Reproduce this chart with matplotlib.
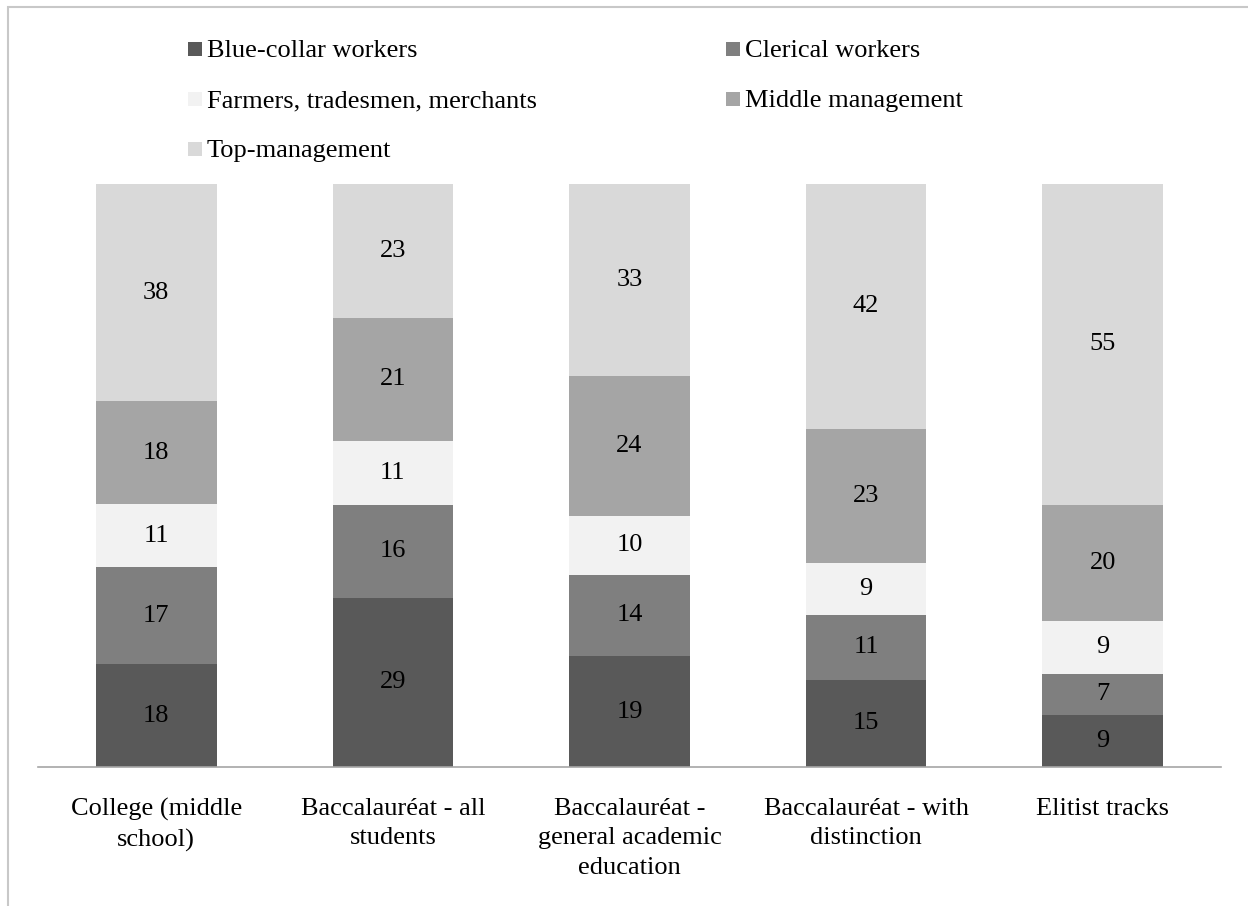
import numpy as np
import matplotlib.pyplot as plt
from matplotlib.patches import Rectangle

plt.rcParams['font.family'] = ['Liberation Serif', 'DejaVu Serif']

categories = ["College (middle\nschool)", "Baccalauréat - all\nstudents",
              "Baccalauréat -\ngeneral academic\neducation",
              "Baccalauréat - with\ndistinction", "Elitist tracks"]
groups = ["Blue-collar workers", "Clerical workers", "Farmers, tradesmen, merchants",
          "Middle management", "Top-management"]
blue_collar = [18, 29, 19, 15, 9]
clerical = [17, 16, 14, 11, 7]
farmers = [11, 11, 10, 9, 9]
middle = [18, 21, 24, 23, 20]
top = [38, 23, 33, 42, 55]
colors = ["#595959", "#7f7f7f", "#f2f2f2", "#a5a5a5", "#d9d9d9"]

W, H = 1248, 906
series = np.array([blue_collar, clerical, farmers, middle, top], dtype=float)
shares = series / series.sum(axis=0) * 100

fig = plt.figure(figsize=(W / 100, H / 100), dpi=100)
# chart-area frame (only top and left edges fall inside the image)
fig.patches.append(Rectangle((8 / W, -0.1), 1.2, (H - 7) / H + 0.1,
                             transform=fig.transFigure, fill=False,
                             edgecolor="#c8c8c8", linewidth=1.5))
ax = fig.add_axes([38 / W, 139 / H, 1183 / W, 583 / H])

x = np.arange(len(categories))
bottom = np.zeros(len(categories))
for vals, share, name, col in zip(series, shares, groups, colors):
    ax.bar(x, share, bottom=bottom, width=0.51, color=col, label=name)
    for xi, b, s, v in zip(x, bottom, share, vals):
        ax.text(xi, b + s / 2, f"{v:.0f}", ha="center", va="center", fontsize=19)
    bottom += share

ax.set_xlim(-0.5, len(categories) - 0.5)
ax.set_ylim(0, 100)
ax.set_yticks([])
ax.set_xticks(x)
ax.set_xticklabels(categories, fontsize=19, linespacing=1.45)
ax.tick_params(axis="x", length=0, pad=22)
for side in ["top", "left", "right"]:
    ax.spines[side].set_visible(False)
ax.spines["bottom"].set_color("#a6a6a6")
ax.spines["bottom"].set_linewidth(1.2)

# legend laid out row by row in two columns
leg_x = [188, 726]
leg_base = [57, 107, 157]
for i, (name, col) in enumerate(zip(groups, colors)):
    r, c = divmod(i, 2)
    x0, yb = leg_x[c], leg_base[r]
    fig.patches.append(Rectangle((x0 / W, 1 - (yb - 1) / H), 14 / W, 14 / H,
                                 transform=fig.transFigure, facecolor=col,
                                 edgecolor="none"))
    fig.text((x0 + 19) / W, 1 - yb / H, name, va="baseline", fontsize=19)

fig.savefig("out.png", dpi=100)
